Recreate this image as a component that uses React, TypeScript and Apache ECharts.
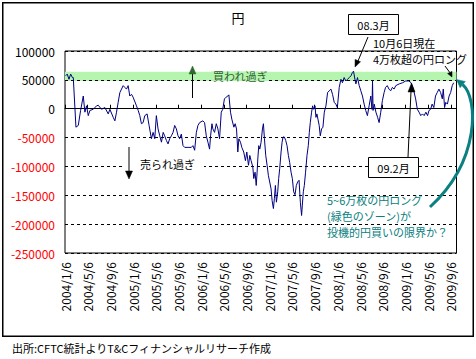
import React, { useEffect, useRef } from 'react';
import * as echarts from 'echarts';

// Tick labels on the date axis (every 4 months from 2004/1/6)
const xTickLabels = [
  '2004/1/6', '2004/5/6', '2004/9/6', '2005/1/6', '2005/5/6', '2005/9/6',
  '2006/1/6', '2006/5/6', '2006/9/6', '2007/1/6', '2007/5/6', '2007/9/6',
  '2008/1/6', '2008/5/6', '2008/9/6', '2009/1/6', '2009/5/6', '2009/9/6',
];

// Position of each weekly observation, in months since 2004/1/6
const monthOffsets = [
  0.1, 0.4, 0.7, 1.0, 1.3, 1.46, 1.93, 2.34, 2.75, 3.22, 3.51, 3.8, 4.1, 4.39, 4.98, 5.56, 5.86, 6.44, 7.03, 7.62,
  7.91, 8.5, 8.79, 9.08, 9.37, 9.67, 10.25, 10.54, 10.84, 11.13, 11.42, 11.72, 12.0, 12.6, 12.9, 13.18, 13.47, 13.77, 14.06, 14.47,
  14.82, 15.23, 15.53, 15.82, 16.1, 16.4, 16.7, 17.0, 17.3, 17.57, 17.87, 18.16, 18.45, 18.75, 19.04, 19.33, 19.63, 19.92, 20.2, 20.5,
  20.8, 21.1, 21.7, 22.27, 22.55, 22.85, 23.15, 23.43, 23.73, 24.3, 24.6, 24.9, 25.19, 25.48, 25.66, 25.9, 26.06, 26.36, 26.66, 26.95,
  27.24, 27.54, 27.8, 28.1, 28.4, 28.7, 28.88, 29.17, 29.4, 29.76, 29.99, 30.23, 30.46, 30.64, 30.93, 31.16, 31.5, 31.8, 32.04, 32.34,
  32.57, 32.8, 33.1, 33.27, 33.5, 33.7, 33.86, 33.98, 34.15, 34.33, 34.56, 34.8, 34.97, 35.15, 35.38, 35.62, 35.85, 36.08, 36.32, 36.5,
  36.73, 36.9, 37.08, 37.26, 37.49, 37.66, 37.84, 38.08, 38.26, 38.43, 38.66, 38.9, 39.13, 39.37, 39.6, 39.84, 40.07, 40.3, 40.54, 40.77,
  41.0, 41.25, 41.48, 41.7, 41.83, 42.0, 42.18, 42.4, 42.65, 42.88, 43.06, 43.23, 43.46, 43.64, 43.82, 44.06, 44.23, 44.4, 44.58, 44.8,
  44.99, 45.22, 45.46, 45.7, 45.99, 46.28, 46.57, 46.87, 47.15, 47.45, 47.74, 48.0, 48.33, 48.63, 48.9, 49.2, 49.5, 49.8, 50.1, 50.4,
  50.67, 50.85, 51.1, 51.27, 51.55, 51.85, 52.14, 52.43, 52.72, 53.0, 53.3, 53.6, 53.9, 54.1, 54.2, 54.3, 54.5, 54.8, 55.1, 55.36,
  55.65, 55.94, 56.24, 56.5, 56.8, 57.1, 57.4, 57.7, 58.0, 58.3, 58.9, 59.5, 60.05, 60.6, 61.0, 61.4, 61.8, 62.1, 62.4, 62.7,
  63.0, 63.3, 63.6, 63.9, 64.15, 64.44, 64.7, 65.0, 65.3, 65.6, 65.9, 66.2, 66.5, 66.67, 66.9, 67.1, 67.4, 67.7, 67.97, 68.25,
  68.5,
];

// Net yen position (contracts)
const netPositions = [
  57000, 60000, 51000, 60000, 54000, 54000, -32000, -29000, -3000, 22000, -6000, 5000, -12000, -3000, -1000, 5000, 6000, -1000, 2000, -9000,
  -1000, -15000, -21000, -6000, 11000, 28000, 40000, 37000, 34000, 40000, 22000, 25000, 20000, 5000, -3000, -12000, -26000, -24000, -12000, -9000,
  -29000, -52000, -41000, -52000, -12000, -35000, -47000, -58000, -41000, -47000, -55000, -61000, -52000, -47000, -41000, -29000, -35000, -47000, -52000, -44000,
  -64000, -67000, -67000, -67000, -64000, -72000, -41000, -29000, -24000, -21000, -24000, -47000, -58000, -70000, -47000, -26000, -35000, -41000, -26000, -35000,
  -52000, -6000, -1000, 17000, 20000, 22000, 24000, -6000, -18000, -32000, -26000, -35000, -75000, -52000, -58000, -67000, -75000, -90000, -75000, -98000,
  -81000, -90000, -101000, -121000, -110000, -133000, -110000, -87000, -64000, -70000, -58000, -35000, -26000, -52000, -81000, -98000, -116000, -127000, -139000, -159000,
  -173000, -156000, -133000, -162000, -144000, -121000, -104000, -75000, -58000, -49000, -49000, -55000, -64000, -81000, -93000, -110000, -121000, -144000, -149000, -133000,
  -127000, -124000, -162000, -185000, -167000, -144000, -133000, -110000, -81000, -64000, -41000, -24000, -6000, 5000, -1000, 5000, -15000, -9000, -18000, -29000,
  -47000, -35000, -32000, -6000, 5000, 28000, 31000, 34000, 25000, 11000, 8000, 2000, 37000, 51000, 45000, 54000, 48000, 51000, 54000, 57000,
  63000, 65000, 51000, 43000, 54000, 40000, 31000, 22000, 8000, -3000, -12000, 5000, 22000, -1000, 48000, -3000, 8000, -6000, -15000, -24000,
  -6000, 14000, 28000, 37000, 40000, 34000, 31000, 37000, 34000, 40000, 43000, 45000, 48000, 48000, 45000, 34000, 17000, -1000, -6000, -12000,
  -9000, -12000, -6000, -12000, -3000, -1000, 8000, 2000, 22000, 28000, 34000, 28000, 17000, 34000, 2000, 11000, 8000, 22000, 28000, 40000,
  45000,
];

// Green "overbought" zone (contracts)
const zoneRange = [48000, 64000];

const FONT = '"Noto Sans CJK JP", "Noto Sans", sans-serif';

function txt(text: string, x: number, y: number, opts: any = {}) {
  return {
    type: 'text',
    z: 100,
    style: {
      text,
      x,
      y,
      fill: opts.fill || '#000',
      fontSize: opts.fontSize || 12,
      fontFamily: FONT,
      align: opts.align || 'left',
      verticalAlign: 'middle',
    },
  };
}

function seg(x1: number, y1: number, x2: number, y2: number, color = '#000', width = 1) {
  return {
    type: 'line',
    z: 100,
    shape: { x1, y1, x2, y2 },
    style: { stroke: color, lineWidth: width },
  };
}

function tri(points: number[][], color = '#000') {
  return {
    type: 'polygon',
    z: 100,
    shape: { points },
    style: { fill: color, stroke: color, lineWidth: 0.5 },
  };
}

export default function App() {
  const ref = useRef<HTMLDivElement>(null);

  useEffect(() => {
    const chart = echarts.init(ref.current!, null, { renderer: 'svg' });
    const teal = '#0a8080';
    chart.setOption({
      animation: false,
      backgroundColor: '#ffffff',
      textStyle: { fontFamily: FONT },
      grid: {
        left: 65,
        right: 19.5,
        top: 51,
        bottom: 106,
        show: true,
        borderColor: '#000',
        borderWidth: 1,
        backgroundColor: 'transparent',
      },
      xAxis: [
        {
          type: 'value',
          min: 0,
          max: 69,
          interval: 4,
          position: 'bottom',
          axisLine: { show: false, onZero: false },
          axisTick: { show: false },
          splitLine: { show: false },
          axisLabel: {
            rotate: 90,
            margin: 9,
            fontSize: 12,
            color: '#000',
            fontFamily: FONT,
            showMaxLabel: false,
            formatter: (v: number) => (v % 4 === 0 ? xTickLabels[v / 4] || '' : ''),
          },
        },
        {
          type: 'value',
          min: 0,
          max: 69,
          interval: 4,
          position: 'top',
          axisLine: { show: true, onZero: true, lineStyle: { color: '#000', width: 1 } },
          axisTick: { show: true, length: 4, lineStyle: { color: '#000' } },
          axisLabel: { show: false },
          splitLine: { show: false },
        },
      ],
      yAxis: {
        type: 'value',
        min: -250000,
        max: 100000,
        interval: 50000,
        axisLine: { show: false },
        axisTick: { show: false },
        axisLabel: {
          margin: 10,
          fontSize: 12,
          fontFamily: FONT,
          formatter: (v: number) => String(v),
          color: (v: any) => (Number(v) < 0 ? '#ff0000' : '#000000'),
        },
        splitLine: { lineStyle: { color: '#000', type: [3, 3], width: 1 } },
      },
      series: [
        {
          type: 'line',
          xAxisIndex: 0,
          symbol: 'none',
          data: monthOffsets.map((m, i) => [m, netPositions[i]]),
          lineStyle: { color: '#000080', width: 1 },
          z: 5,
          markArea: {
            silent: true,
            itemStyle: { color: '#b5f5b0' },
            data: [[{ yAxis: zoneRange[0] }, { yAxis: zoneRange[1] }]],
          },
          markLine: {
            silent: true,
            symbol: 'none',
            label: { show: false },
            lineStyle: { color: '#000', type: [3, 3], width: 1 },
            data: [{ yAxis: 50000 }],
          },
        },
      ],
      graphic: [
        // outer chart frame
        {
          type: 'rect',
          z: 100,
          shape: { x: 2.75, y: 2.75, width: 470.5, height: 333.5 },
          style: { fill: 'none', stroke: '#000', lineWidth: 1.5 },
        },
        txt('円', 238, 17, { align: 'center', fontSize: 13 }),
        // oversold annotation
        { type: 'rect', z: 99, shape: { x: 123, y: 158, width: 81, height: 12 }, style: { fill: '#fff' } },
        seg(129, 147, 129, 172),
        tri([[129, 179], [125.5, 171], [132.5, 171]]),
        txt('売られ過ぎ', 140, 163.5, { fontSize: 11 }),
        // overbought annotation
        { type: 'rect', z: 99, shape: { x: 211, y: 71.5, width: 55, height: 9.5 }, style: { fill: '#b5f5b0' } },
        seg(192.5, 98, 192.5, 72),
        tri([[192.5, 66], [189, 74], [196, 74]], '#2f6a2f'),
        txt('買われ過ぎ', 213, 76, { fontSize: 11, fill: '#2f5f2f' }),
        // 08.3月 box
        { type: 'rect', z: 100, shape: { x: 348.5, y: 14.5, width: 50, height: 20 }, style: { fill: '#fff', stroke: '#000', lineWidth: 1 } },
        txt('08.3月', 373.5, 24.5, { align: 'center', fontSize: 11 }),
        seg(368, 37, 358, 61),
        tri([[355, 67], [360.5, 61.8], [355.1, 59.4]]),
        txt('10月6日現在', 373, 43, { fontSize: 11 }),
        txt('4万枚超の円ロング', 373, 59, { fontSize: 11 }),
        seg(445, 66, 449.8, 72.5),
        tri([[452, 77], [452, 71.4], [447.6, 73.6]]),
        // 09.2月 box
        { type: 'rect', z: 100, shape: { x: 368.5, y: 157.5, width: 50, height: 20 }, style: { fill: '#fff', stroke: '#000', lineWidth: 1 } },
        txt('09.2月', 393.5, 167.5, { align: 'center', fontSize: 11 }),
        seg(408, 157, 411, 91),
        tri([[411.5, 83], [408, 92], [415, 92]]),
        // teal curved arrow
        {
          type: 'bezierCurve',
          z: 100,
          shape: { x1: 430, y1: 207, cpx1: 481, cpy1: 160, cpx2: 478, cpy2: 98, x2: 462.7, y2: 84.6 },
          style: { stroke: teal, lineWidth: 3, fill: 'none' },
        },
        tri([[456.5, 79.5], [465.3, 81.5], [460.1, 87.7]], teal),
        txt('5~6万枚の円ロング', 327, 200, { fill: teal, fontSize: 11 }),
        txt('(緑色のゾーン)が', 327, 216, { fill: teal, fontSize: 11 }),
        txt('投機的円買いの限界か？', 327, 232, { fill: teal, fontSize: 11 }),
        // source footer
        txt('出所:CFTC統計よりT&Cフィナンシャルリサーチ作成', 12, 348, { fontSize: 11 }),
      ],
    });
    return () => chart.dispose();
  }, []);

  return (
    <div
      ref={ref}
      style={{ position: 'absolute', left: 0, top: 0, width: 476, height: 359, background: '#fff' }}
    />
  );
}
